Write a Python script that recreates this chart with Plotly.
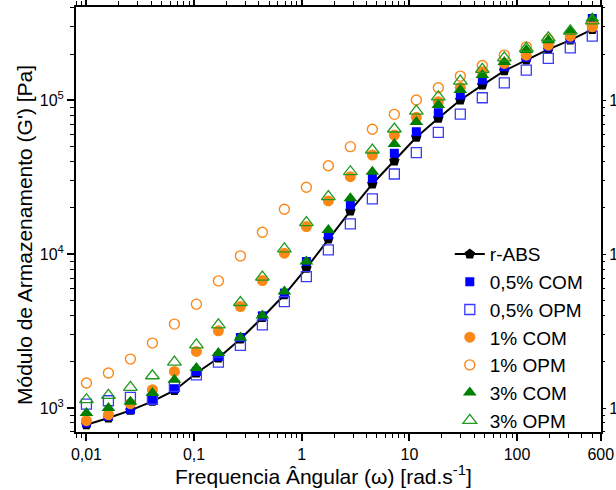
import plotly.graph_objects as go

freq = [0.01, 0.016, 0.02561, 0.0410, 0.06563, 0.10506, 0.16817, 0.2692, 0.4309, 0.6898,
        1.1041, 1.7674, 2.829, 4.529, 7.249, 11.60, 18.57, 29.73, 47.59, 76.18,
        121.9, 195.2, 312.4, 500.0]

r_abs = [779, 861, 965, 1104, 1301, 1688, 2112, 2806, 3875, 5443,
         8110, 12520, 19100, 28610, 40360, 57540, 76450, 100500, 125700, 155700,
         182700, 214400, 246400, 289100]
com_05 = [799, 882, 975, 1132, 1335, 1729, 2163, 2873, 3973, 5582,
          8953, 13340, 20900, 31150, 45270, 62520, 83100, 108200, 135500, 165300,
          190100, 222800, 254900, 340600]
opm_05 = [1060, 1115, 1172, 1140, 1381, 1640, 1989, 2550, 3475, 4922,
          7153, 10660, 15730, 22860, 33220, 45690, 61950, 81500, 104000, 130100,
          157300, 187500, 219600, 261800]
com_1 = [827, 905, 1066, 1315, 1729, 2331, 3177, 4567, 6740, 10150,
         15110, 22190, 31910, 44140, 59540, 77570, 97950, 121400, 153400, 173800,
         196800, 228600, 261500, 300700]
opm_1 = [1453, 1688, 2080, 2643, 3512, 4733, 6709, 9750, 13900, 19600,
         27240, 37610, 50010, 64840, 81130, 100500, 120700, 143800, 168700, 196800,
         222800, 248900, 273500, 308300]
com_3 = [928, 1000, 1100, 1252, 1527, 1818, 2276, 2873, 3990, 5717,
         8953, 14380, 23100, 34370, 52020, 72270, 93240, 116700, 146000, 177300,
         212300, 246400, 285900, 342300]
opm_3 = [1132, 1207, 1361, 1621, 1989, 2576, 3475, 4851, 7090, 10820,
         16040, 23660, 34370, 47560, 65130, 85250, 105500, 133400, 158900, 189100,
         217600, 254900, 281800, 328800]

x_tickvals = [0.01, 0.1, 1, 10, 100, 600]
x_ticktext = ["0,01", "0,1", "1", "10", "100", "600"]
y_tickvals = [1e3, 1e4, 1e5]
y_ticktext = ["10<sup>3</sup>", "10<sup>4</sup>", "10<sup>5</sup>"]

FONT = "Arial, Liberation Sans, sans-serif"
BLUE = "#0000ff"
BLUE_OPEN = "#3a3aff"
ORANGE = "#fb8717"
GREEN = "#008000"
GREEN_OPEN = "#1f9a1f"

fig = go.Figure()
fig.add_trace(go.Scatter(x=freq, y=r_abs, name="r-ABS", mode="lines+markers",
                         line=dict(color="black", width=2),
                         marker=dict(symbol="pentagon", size=11, color="black")))
fig.add_trace(go.Scatter(x=freq, y=com_05, name="0,5% COM", mode="markers",
                         marker=dict(symbol="square", size=9, color=BLUE)))
fig.add_trace(go.Scatter(x=freq, y=opm_05, name="0,5% OPM", mode="markers",
                         marker=dict(symbol="square-open", size=10, color=BLUE_OPEN,
                                     line=dict(width=1.3))))
fig.add_trace(go.Scatter(x=freq, y=com_1, name="1% COM", mode="markers",
                         marker=dict(symbol="circle", size=11, color=ORANGE)))
fig.add_trace(go.Scatter(x=freq, y=opm_1, name="1% OPM", mode="markers",
                         marker=dict(symbol="circle-open", size=10, color=ORANGE,
                                     line=dict(width=1.4))))
fig.add_trace(go.Scatter(x=freq, y=com_3, name="3% COM", mode="markers",
                         marker=dict(symbol="triangle-up", size=12, color=GREEN)))
fig.add_trace(go.Scatter(x=freq, y=opm_3, name="3% OPM", mode="markers",
                         marker=dict(symbol="triangle-up-open", size=12, color=GREEN_OPEN,
                                     line=dict(width=1.3))))

# invisible trace on the mirror y axis (right side labels)
fig.add_trace(go.Scatter(x=[freq[0]], y=[r_abs[0]], yaxis="y2", mode="markers",
                         marker=dict(opacity=0), showlegend=False, hoverinfo="skip"))

yrange = [2.844, 5.607]
fig.update_layout(
    width=616, height=490,
    margin=dict(l=76, r=15, t=7, b=58, autoexpand=False),
    paper_bgcolor="white", plot_bgcolor="white",
    font=dict(family=FONT, color="black", size=16),
    showlegend=True,
    legend=dict(x=0.712, y=-0.017, xanchor="left", yanchor="bottom",
                bgcolor="rgba(0,0,0,0)", font=dict(size=19, family=FONT),
                tracegroupgap=0, itemsizing="trace"),
    xaxis=dict(type="log", range=[-2.097, 2.78], showline=True, linecolor="black",
               linewidth=2, mirror="ticks", ticks="outside", ticklen=7, tickwidth=1.5,
               tickcolor="black", tickvals=x_tickvals, ticktext=x_ticktext,
               tickfont=dict(size=16, family=FONT), showgrid=False, zeroline=False,
               automargin=False,
               minor=dict(ticks="outside", ticklen=4, tickwidth=1.2, dtick="D1",
                          tickcolor="black", showgrid=False)),
    yaxis=dict(type="log", range=yrange, showline=True, linecolor="black",
               linewidth=2, ticks="outside", ticklen=7, tickwidth=1.5,
               tickcolor="black", tickvals=y_tickvals, ticktext=y_ticktext,
               tickfont=dict(size=16, family=FONT), showgrid=False, zeroline=False,
               automargin=False,
               minor=dict(ticks="outside", ticklen=4, tickwidth=1.2, dtick="D1",
                          tickcolor="black", showgrid=False)),
    yaxis2=dict(type="log", range=yrange, overlaying="y", side="right", anchor="x",
                showline=True, linecolor="black", linewidth=2, ticks="outside",
                ticklen=3, tickwidth=1.2, tickcolor="black",
                tickvals=y_tickvals, ticktext=y_ticktext,
                tickfont=dict(size=16, family=FONT), showgrid=False, zeroline=False,
                automargin=False,
                minor=dict(ticks="outside", ticklen=2, tickwidth=1, dtick="D1",
                           tickcolor="black", showgrid=False)),
    annotations=[
        dict(text="Módulo de Armazenamento (G') [Pa]", xref="paper", yref="paper",
             x=-0.099, y=0.4635, xanchor="center", yanchor="middle", textangle=-90,
             showarrow=False, font=dict(size=21, family=FONT)),
        dict(text="Frequencia Ângular (ω) [rad.s<sup>-1</sup>]", xref="paper", yref="paper",
             x=0.471, y=-0.101, xanchor="center", yanchor="middle",
             showarrow=False, font=dict(size=21, family=FONT)),
    ],
)

fig.write_html("out.html", config={"displayModeBar": False},
               post_script="document.body.style.margin='0';document.body.style.overflow='hidden';")
